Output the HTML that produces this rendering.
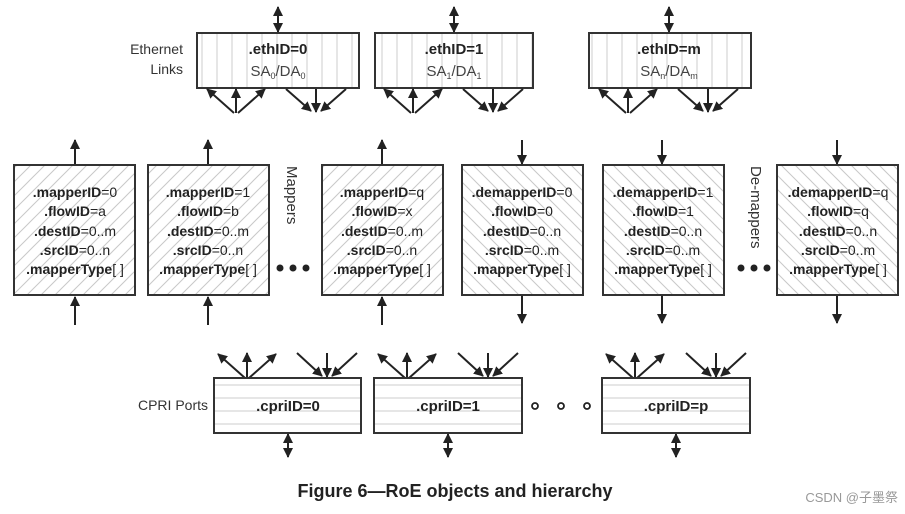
<!DOCTYPE html>
<html><head><meta charset="utf-8"><style>
html,body{margin:0;padding:0;background:#fff;width:905px;height:514px;overflow:hidden}
svg{display:block}
text{font-family:"Liberation Sans",Arial,sans-serif;fill:#222}
</style></head><body>
<svg width="905" height="514" viewBox="0 0 905 514" xmlns="http://www.w3.org/2000/svg">
<defs>
<marker id="ah" viewBox="0 0 10 10" refX="9" refY="5" markerWidth="5" markerHeight="5" orient="auto-start-reverse" markerUnits="strokeWidth"><path d="M0,0 L10,5 L0,10 z" fill="#222"/></marker>
<pattern id="vl" width="15" height="10" patternUnits="userSpaceOnUse"><rect width="15" height="10" fill="#fff"/><line x1="7" y1="0" x2="7" y2="10" stroke="#ccc" stroke-width="1"/></pattern>
<pattern id="hl" width="10" height="13" patternUnits="userSpaceOnUse" y="378"><rect width="10" height="13" fill="#fff"/><line x1="0" y1="7" x2="10" y2="7" stroke="#ccc" stroke-width="1"/></pattern>
<pattern id="fw" width="14" height="14" patternUnits="userSpaceOnUse"><rect width="14" height="14" fill="#fff"/><line x1="0" y1="14" x2="14" y2="0" stroke="#c8c8c8" stroke-width="1"/><line x1="-7" y1="7" x2="7" y2="-7" stroke="#c8c8c8"/><line x1="7" y1="21" x2="21" y2="7" stroke="#c8c8c8"/></pattern>
<pattern id="bw" width="14" height="14" patternUnits="userSpaceOnUse"><rect width="14" height="14" fill="#fff"/><line x1="0" y1="0" x2="14" y2="14" stroke="#c8c8c8" stroke-width="1"/><line x1="-7" y1="7" x2="7" y2="21" stroke="#c8c8c8"/><line x1="7" y1="-7" x2="21" y2="7" stroke="#c8c8c8"/></pattern>
</defs>

<g stroke="#222" stroke-width="2" fill="none">
<line x1="278" y1="7" x2="278" y2="32" marker-start="url(#ah)" marker-end="url(#ah)"/>
<line x1="454" y1="7" x2="454" y2="32" marker-start="url(#ah)" marker-end="url(#ah)"/>
<line x1="669" y1="7" x2="669" y2="32" marker-start="url(#ah)" marker-end="url(#ah)"/>
<line x1="288" y1="434" x2="288" y2="457" marker-start="url(#ah)" marker-end="url(#ah)"/>
<line x1="448" y1="434" x2="448" y2="457" marker-start="url(#ah)" marker-end="url(#ah)"/>
<line x1="676" y1="434" x2="676" y2="457" marker-start="url(#ah)" marker-end="url(#ah)"/>
</g>

<g stroke="#333" stroke-width="2">
<rect x="197" y="33" width="162" height="55" fill="url(#vl)"/>
<rect x="375" y="33" width="158" height="55" fill="url(#vl)"/>
<rect x="589" y="33" width="162" height="55" fill="url(#vl)"/>
</g>
<text x="278" y="54" text-anchor="middle" font-size="15" font-weight="bold">.ethID=0</text>
<text x="278" y="76" text-anchor="middle" font-size="15" style="fill:#444">SA<tspan font-size="9" dy="3">0</tspan><tspan dy="-3">/DA</tspan><tspan font-size="9" dy="3">0</tspan></text>
<text x="454" y="54" text-anchor="middle" font-size="15" font-weight="bold">.ethID=1</text>
<text x="454" y="76" text-anchor="middle" font-size="15" style="fill:#444">SA<tspan font-size="9" dy="3">1</tspan><tspan dy="-3">/DA</tspan><tspan font-size="9" dy="3">1</tspan></text>
<text x="669" y="54" text-anchor="middle" font-size="15" font-weight="bold">.ethID=m</text>
<text x="669" y="76" text-anchor="middle" font-size="15" style="fill:#444">SA<tspan font-size="9" dy="3">n</tspan><tspan dy="-3">/DA</tspan><tspan font-size="9" dy="3">m</tspan></text>
<text x="183" y="54" text-anchor="end" font-size="14" style="fill:#333">Ethernet</text>
<text x="183" y="74" text-anchor="end" font-size="14" style="fill:#333">Links</text>

<g stroke="#222" stroke-width="2" marker-end="url(#ah)">
<line x1="234" y1="113" x2="207" y2="89"/><line x1="236" y1="113" x2="236" y2="89"/><line x1="238" y1="113" x2="265" y2="89"/>
<line x1="286" y1="89" x2="311" y2="111"/><line x1="316" y1="89" x2="316" y2="112"/><line x1="346" y1="89" x2="321" y2="111"/>
<line x1="411" y1="113" x2="384" y2="89"/><line x1="413" y1="113" x2="413" y2="89"/><line x1="415" y1="113" x2="442" y2="89"/>
<line x1="463" y1="89" x2="488" y2="111"/><line x1="493" y1="89" x2="493" y2="112"/><line x1="523" y1="89" x2="498" y2="111"/>
<line x1="626" y1="113" x2="599" y2="89"/><line x1="628" y1="113" x2="628" y2="89"/><line x1="630" y1="113" x2="657" y2="89"/>
<line x1="678" y1="89" x2="703" y2="111"/><line x1="708" y1="89" x2="708" y2="112"/><line x1="738" y1="89" x2="713" y2="111"/>
</g>

<g stroke="#222" stroke-width="2" marker-end="url(#ah)">
<line x1="75" y1="165" x2="75" y2="140"/><line x1="208" y1="165" x2="208" y2="140"/><line x1="382" y1="165" x2="382" y2="140"/>
<line x1="75" y1="325" x2="75" y2="297"/><line x1="208" y1="325" x2="208" y2="297"/><line x1="382" y1="325" x2="382" y2="297"/>
<line x1="522" y1="140" x2="522" y2="164"/><line x1="662" y1="140" x2="662" y2="164"/><line x1="837" y1="140" x2="837" y2="164"/>
<line x1="522" y1="296" x2="522" y2="323"/><line x1="662" y1="296" x2="662" y2="323"/><line x1="837" y1="296" x2="837" y2="323"/>
</g>

<g stroke="#333" stroke-width="2">
<rect x="14" y="165" width="121" height="130" fill="url(#fw)"/>
<rect x="148" y="165" width="121" height="130" fill="url(#fw)"/>
<rect x="322" y="165" width="121" height="130" fill="url(#fw)"/>
<rect x="462" y="165" width="121" height="130" fill="url(#bw)"/>
<rect x="603" y="165" width="121" height="130" fill="url(#bw)"/>
<rect x="777" y="165" width="121" height="130" fill="url(#bw)"/>
</g>

<g font-size="14" text-anchor="middle">
<text x="75" y="197"><tspan font-weight="bold">.mapperID</tspan>=0</text>
<text x="75" y="216"><tspan font-weight="bold">.flowID</tspan>=a</text>
<text x="75" y="236"><tspan font-weight="bold">.destID</tspan>=0..m</text>
<text x="75" y="255"><tspan font-weight="bold">.srcID</tspan>=0..n</text>
<text x="75" y="274"><tspan font-weight="bold">.mapperType</tspan>[ ]</text>

<text x="208" y="197"><tspan font-weight="bold">.mapperID</tspan>=1</text>
<text x="208" y="216"><tspan font-weight="bold">.flowID</tspan>=b</text>
<text x="208" y="236"><tspan font-weight="bold">.destID</tspan>=0..m</text>
<text x="208" y="255"><tspan font-weight="bold">.srcID</tspan>=0..n</text>
<text x="208" y="274"><tspan font-weight="bold">.mapperType</tspan>[ ]</text>

<text x="382" y="197"><tspan font-weight="bold">.mapperID</tspan>=q</text>
<text x="382" y="216"><tspan font-weight="bold">.flowID</tspan>=x</text>
<text x="382" y="236"><tspan font-weight="bold">.destID</tspan>=0..m</text>
<text x="382" y="255"><tspan font-weight="bold">.srcID</tspan>=0..n</text>
<text x="382" y="274"><tspan font-weight="bold">.mapperType</tspan>[ ]</text>

<text x="522" y="197"><tspan font-weight="bold">.demapperID</tspan>=0</text>
<text x="522" y="216"><tspan font-weight="bold">.flowID</tspan>=0</text>
<text x="522" y="236"><tspan font-weight="bold">.destID</tspan>=0..n</text>
<text x="522" y="255"><tspan font-weight="bold">.srcID</tspan>=0..m</text>
<text x="522" y="274"><tspan font-weight="bold">.mapperType</tspan>[ ]</text>

<text x="663" y="197"><tspan font-weight="bold">.demapperID</tspan>=1</text>
<text x="663" y="216"><tspan font-weight="bold">.flowID</tspan>=1</text>
<text x="663" y="236"><tspan font-weight="bold">.destID</tspan>=0..n</text>
<text x="663" y="255"><tspan font-weight="bold">.srcID</tspan>=0..m</text>
<text x="663" y="274"><tspan font-weight="bold">.mapperType</tspan>[ ]</text>

<text x="838" y="197"><tspan font-weight="bold">.demapperID</tspan>=q</text>
<text x="838" y="216"><tspan font-weight="bold">.flowID</tspan>=q</text>
<text x="838" y="236"><tspan font-weight="bold">.destID</tspan>=0..n</text>
<text x="838" y="255"><tspan font-weight="bold">.srcID</tspan>=0..m</text>
<text x="838" y="274"><tspan font-weight="bold">.mapperType</tspan>[ ]</text>
</g>

<text transform="translate(287,166) rotate(90)" font-size="15" style="fill:#333">Mappers</text>
<text transform="translate(751,166) rotate(90)" font-size="15" style="fill:#333">De-mappers</text>
<g fill="#222">
<circle cx="280" cy="268" r="3.5"/><circle cx="293" cy="268" r="3.5"/><circle cx="306" cy="268" r="3.5"/>
<circle cx="741" cy="268" r="3.5"/><circle cx="754" cy="268" r="3.5"/><circle cx="767" cy="268" r="3.5"/>
</g>

<g stroke="#222" stroke-width="2" marker-end="url(#ah)">
<line x1="245" y1="378" x2="218" y2="354"/><line x1="247" y1="378" x2="247" y2="353"/><line x1="249" y1="378" x2="276" y2="354"/>
<line x1="297" y1="353" x2="322" y2="376"/><line x1="327" y1="353" x2="327" y2="377"/><line x1="357" y1="353" x2="332" y2="376"/>
<line x1="405" y1="378" x2="378" y2="354"/><line x1="407" y1="378" x2="407" y2="353"/><line x1="409" y1="378" x2="436" y2="354"/>
<line x1="458" y1="353" x2="483" y2="376"/><line x1="488" y1="353" x2="488" y2="377"/><line x1="518" y1="353" x2="493" y2="376"/>
<line x1="633" y1="378" x2="606" y2="354"/><line x1="635" y1="378" x2="635" y2="353"/><line x1="637" y1="378" x2="664" y2="354"/>
<line x1="686" y1="353" x2="711" y2="376"/><line x1="716" y1="353" x2="716" y2="377"/><line x1="746" y1="353" x2="721" y2="376"/>
</g>

<g stroke="#333" stroke-width="2">
<rect x="214" y="378" width="147" height="55" fill="url(#hl)"/>
<rect x="374" y="378" width="148" height="55" fill="url(#hl)"/>
<rect x="602" y="378" width="148" height="55" fill="url(#hl)"/>
</g>
<g font-size="15" font-weight="bold" text-anchor="middle">
<text x="288" y="411">.cpriID=0</text>
<text x="448" y="411">.cpriID=1</text>
<text x="676" y="411">.cpriID=p</text>
</g>
<text x="208" y="410" text-anchor="end" font-size="14" style="fill:#333">CPRI Ports</text>
<g fill="none" stroke="#222" stroke-width="1.8">
<circle cx="535" cy="406" r="3"/><circle cx="561" cy="406" r="3"/><circle cx="587" cy="406" r="3"/>
</g>

<text x="455" y="497" text-anchor="middle" font-size="18" font-weight="bold">Figure 6—RoE objects and hierarchy</text>
<text x="898" y="502" text-anchor="end" font-size="13" style="fill:#999;font-family:'Liberation Sans','Noto Sans CJK SC',sans-serif">CSDN @子墨祭</text>
</svg>
</body></html>
